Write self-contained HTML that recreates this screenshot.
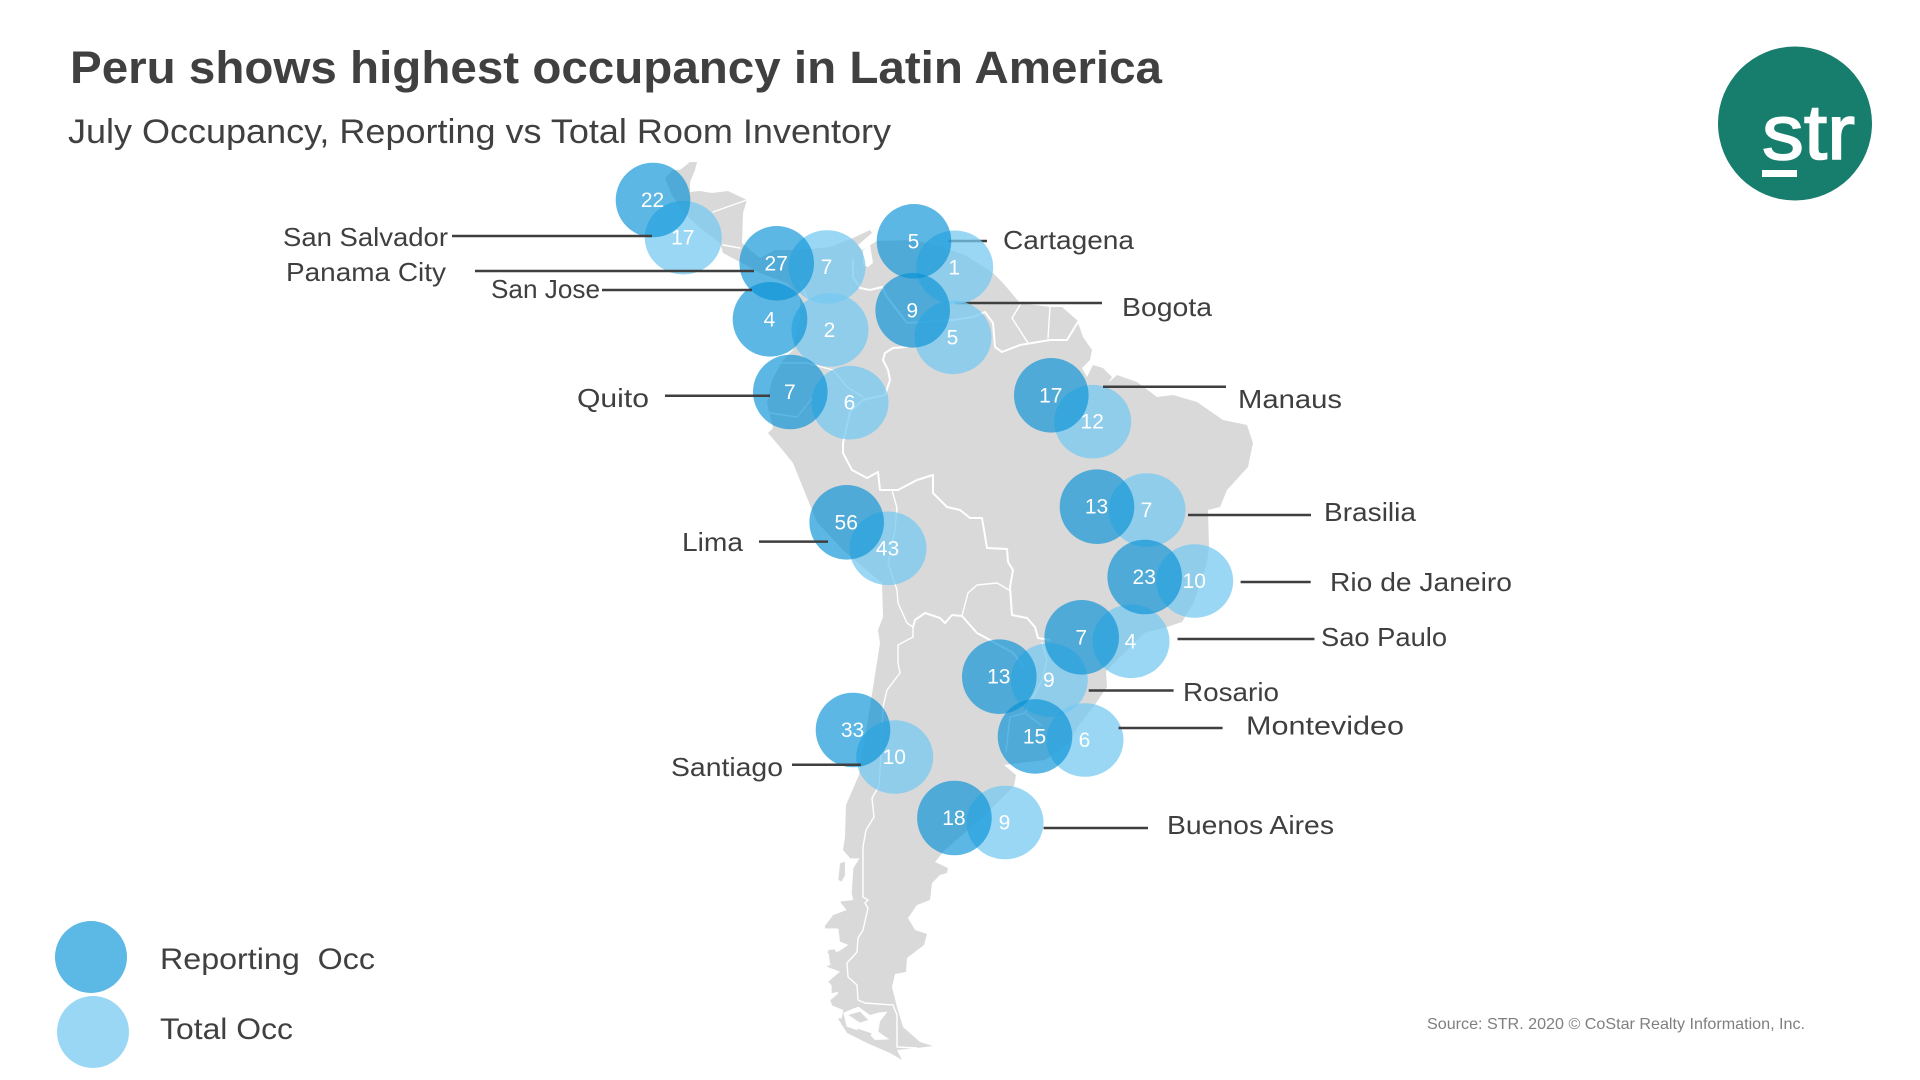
<!DOCTYPE html>
<html lang="en">
<head>
<meta charset="utf-8">
<title>Peru shows highest occupancy in Latin America</title>
<style>
html,body{margin:0;padding:0;background:#fff;width:1920px;height:1080px;overflow:hidden}
svg{display:block}
text{font-family:"Liberation Sans",sans-serif}
.lab{font-size:26px;fill:#3f3f3f}
.num{font-size:21px;fill:#fff;text-anchor:middle}
.bd{fill:none;stroke:#fff;stroke-width:2;stroke-linejoin:round;stroke-linecap:round}
.bd.thin{stroke-width:1.4}
</style>
</head>
<body>
<svg id="chart" width="1920" height="1080" viewBox="0 0 1920 1080" xmlns="http://www.w3.org/2000/svg">
  <rect width="1920" height="1080" fill="#fff"/>
  <text x="70" y="83" font-size="45" font-weight="700" fill="#404040" textLength="1092" lengthAdjust="spacingAndGlyphs">Peru shows highest occupancy in Latin America</text>
  <text x="68" y="143" font-size="34" fill="#404040" textLength="823" lengthAdjust="spacingAndGlyphs">July Occupancy, Reporting vs Total Room Inventory</text>

  <g>
    <path fill="#d9d9d9" d="M690,162 L697,162 695,170 690,182 690,192 700,191 712,193 728,191 747,200 743,213 742,243 750,250 760,258 775,250 800,250 830,247 853,238 870,230 872,233 858,245 862,250 877,241 915,240 945,248 965,255 993,273 1003,283 1020,303 1050,307 1062,307 1077,320 1083,337 1092,350 1090,360 1082,368 1087,377 1093,365 1103,368 1112,377 1108,383 1117,375 1137,382 1157,397 1173,395 1197,402 1223,420 1247,425 1253,443 1248,467 1227,490 1220,507 1208,510 1209,547 1207,563 1194,602 1182,622 1167,627 1144,633 1117,660 1106,671 1107,687 1094,706 1079,725 1068,744 1045,760 1004,765 1016,775 1014,786 985,815 945,850 935,862 948,868 947,873 940,875 932,883 930,900 917,905 908,918 915,930 927,934 924,945 907,958 906,972 895,974 892,987 897,1007 903,1027 920,1042 933,1046 917,1048 897,1050 902,1060 890,1053 867,1043 847,1033 837,1017 830,1000 827,973 827,950 825,927 833,915 840,907 843,873 850,858 843,850 845,837 846,805 859,775 872,694 880,643 878,630 883,617 882,583 870,573 843,550 817,522 810,505 793,463 780,447 768,433 773,428 767,403 772,380 783,360 793,350 800,320 800,297 787,283 760,273 740,262 723,253 720,243 700,228 683,212 672,195 665,178 673,170 680,170 Z"/>
    <path fill="#fff" d="M863,250 L870,245 873,263 868,267 863,265 Z"/>
    <g transform="translate(800,830) scale(.33333)">
      <path fill="#fff" d="M135,85 L178,85 160,115 155,190 160,210 120,215 140,240 100,255 70,295 115,295 120,335 145,345 115,365 80,365 110,395 80,410 120,425 85,455 115,490 80,520 130,540 125,565 110,565 70,500 60,300 100,100 Z"/>
      <path fill="#d9d9d9" d="M120,100 L135,95 135,135 125,155 115,150 Z"/>
      <path fill="#d9d9d9" d="M100,255 L118,262 135,285 115,295 73,290 Z"/>
      <path fill="#d9d9d9" d="M85,360 L105,358 112,395 100,415 90,400 Z"/>
      <path fill="#d9d9d9" d="M95,455 L110,455 115,485 95,490 Z"/>
      <path fill="#fff" d="M130,548 L175,530 210,555 235,548 262,545 240,575 235,605 268,628 225,630 205,610 170,600 140,590 Z"/>
      <path fill="#d9d9d9" d="M145,555 L180,545 205,570 180,578 Z"/>
      <path fill="#d9d9d9" d="M170,595 L215,610 210,620 180,610 Z"/>
    </g>
    <g>
      <path class="bd thin" d="M713,212 727,207 747,200"/>
      <path class="bd thin" d="M723,245 740,248"/>
      <path class="bd thin" d="M797,277 807,297"/>
      <path class="bd" d="M853,260 853,277 860,288 870,290 882,287 887,297 907,323 953,320 973,317 985,312 993,323 995,347 1002,352 1020,345 1050,340 1067,340 1078,322"/>
      <path class="bd thin" d="M1020,305 1012,318 1028,343"/>
      <path class="bd thin" d="M1050,307 1048,338"/>
      <path class="bd" d="M907,347 893,348 885,353 883,360 888,370 890,380 885,395 863,400 850,412 843,443 843,453 852,470 867,478 878,472 880,490 898,490 917,480 933,475 933,493 947,507 960,510 970,518 982,518 987,548 1007,549 1008,562 1013,570 1010,587 1012,615 1027,618 1035,627 1038,638 1050,640"/>
      <path class="bd thin" d="M780,363 807,363 833,370 847,387 863,397"/>
      <path class="bd thin" d="M770,413 797,417 813,397"/>
      <path class="bd thin" d="M892,490 897,508 895,530 888,563 897,590 898,603 907,623 913,627"/>
      <path class="bd" d="M913,627 915,620 925,613 940,618 945,623 952,615 962,616"/>
      <path class="bd thin" d="M962,616 968,593 977,585 997,583 1009,590"/>
      <path class="bd" d="M962,616 977,633 990,640 1013,653 1025,668"/>
      <path class="bd thin" d="M1042,643 1047,660 1042,680 1025,713 1041,725"/>
      <path class="bd thin" d="M1025,713 1010,717 1006,752"/>
      <path class="bd thin" d="M913,627 913,637 898,645 898,663 900,673 887,690 883,707 880,771 879,786 872,798 874,817 866,830 863,847 863,897 868,900 865,903 868,908 863,930 858,938 857,952 847,963 848,977 857,985 858,1000 865,1003 893,1005 897,1015 897,1047 917,1048"/>
    </g>
  </g>

  <g id="leaders-under"></g>
  <g id="bubbles"></g>
  <g id="leaders-over"></g>
  <g id="bubble-values"></g>
  <g id="city-labels"></g>

  <g>
    <circle cx="91" cy="957" r="36" fill="#5cb8e4"/>
    <text x="160" y="969" font-size="30" fill="#404040" textLength="215" lengthAdjust="spacingAndGlyphs" xml:space="preserve">Reporting  Occ</text>
    <circle cx="93" cy="1032" r="36" fill="#9ad7f5"/>
    <text x="160" y="1039" font-size="30" fill="#404040" textLength="133" lengthAdjust="spacingAndGlyphs">Total Occ</text>
  </g>

  <text x="1427" y="1029" font-size="16" fill="#7f7f7f" textLength="378" lengthAdjust="spacingAndGlyphs">Source: STR. 2020 © CoStar Realty Information, Inc.</text>

  <g>
    <circle cx="1795" cy="123.5" r="77" fill="#177d6c"/>
    <text x="1762" y="159" font-size="78" font-weight="400" fill="#fff" stroke="#fff" stroke-width="1.6" textLength="93" lengthAdjust="spacingAndGlyphs">str</text>
    <rect x="1762" y="170" width="35" height="7" fill="#fff"/>
  </g>
</svg>

<script>
// Chart data
const cities = ["San Salvador","Panama City","San Jose","Cartagena","Bogota","Quito","Manaus","Lima","Brasilia","Rio de Janeiro","Sao Paulo","Rosario","Montevideo","Santiago","Buenos Aires"];
const reportingOcc = [22,27,4,5,9,7,17,56,13,23,7,13,15,33,18];
const totalOcc = [17,7,2,1,5,6,12,43,7,10,4,9,6,10,9];

// Map layout, kept apart from the values: bubble anchors, leader lines and label boxes per city
const mapLayout = {
  "San Salvador":  {r:[653,200],   t:[683.3,237.7], lead:[452,652,236],     label:[283,246,165]},
  "Panama City":   {r:[776.7,263.3],t:[827,267],    lead:[475,754,271],     label:[286,281,160]},
  "San Jose":      {r:[770,319.3], t:[830,330],     lead:[602,752,290],     label:[491,298,109]},
  "Cartagena":     {r:[914,241.3], t:[954.7,267.3], lead:[948,987,241],     label:[1003,249,131], under:true},
  "Bogota":        {r:[912.7,310.3],t:[953,337.3],  lead:[955,1102,303],    label:[1122,316,90],  under:true},
  "Quito":         {r:[790.3,392], t:[850,402.7],   lead:[665,770,395.7],   label:[577,407,72]},
  "Manaus":        {r:[1051.3,395.3],t:[1092.7,421.7],lead:[1103,1226,386.7],label:[1238,408,104]},
  "Lima":          {r:[846.7,522.3],t:[888,548.3],  lead:[759,828,541.6],   label:[682,551,61]},
  "Brasilia":      {r:[1097,506.7],t:[1147,510],    lead:[1188,1311,515],   label:[1324,521,92]},
  "Rio de Janeiro":{r:[1144.7,577],t:[1194.7,581],  lead:[1240.6,1310.7,582],label:[1330,591,182]},
  "Sao Paulo":     {r:[1081.7,637.3],t:[1131,641.3],lead:[1177.5,1314.5,639],label:[1321,646,126]},
  "Rosario":       {r:[999.3,676.7],t:[1049.3,680], lead:[1088.7,1173.6,690.5],label:[1183,701,96]},
  "Montevideo":    {r:[1035,736.4],t:[1085,740],    lead:[1118.5,1222.6,728],label:[1246,734.5,158]},
  "Santiago":      {r:[853,730],   t:[894.7,757],   lead:[792,861,764.7],   label:[671,776,112]},
  "Buenos Aires":  {r:[954.4,818], t:[1005,822.5],  lead:[1043.5,1148,828], label:[1167,834,167]}
};

const NS = "http://www.w3.org/2000/svg";
const bubbleLayer = document.getElementById("bubbles");
const valueLayer = document.getElementById("bubble-values");
const labelLayer = document.getElementById("city-labels");
const underLayer = document.getElementById("leaders-under");
const overLayer = document.getElementById("leaders-over");

function slug(name){ return name.toLowerCase().replace(/ /g,"-"); }

function drawValue(pos, value, series, name){
  const t = document.createElementNS(NS,"text");
  t.setAttribute("x", pos[0] - 0.5);
  t.setAttribute("y", pos[1] + 7);
  t.setAttribute("class","num");
  
  
  t.textContent = value;
  valueLayer.appendChild(t);
}

cities.forEach(function(name, i){
  const m = mapLayout[name];

  const line = document.createElementNS(NS,"line");
  line.setAttribute("x1", m.lead[0]);
  line.setAttribute("x2", m.lead[1]);
  line.setAttribute("y1", m.lead[2]);
  line.setAttribute("y2", m.lead[2]);
  line.setAttribute("stroke", "#3f3f3f");
  line.setAttribute("stroke-width", "2.5");
  
  
  (m.under ? underLayer : overLayer).appendChild(line);

  const total = document.createElementNS(NS,"ellipse");
  total.setAttribute("cx", m.t[0]);
  total.setAttribute("cy", m.t[1]);
  total.setAttribute("rx", 38.5);
  total.setAttribute("ry", 36.8);
  total.setAttribute("fill", "rgb(118,201,241)");
  total.setAttribute("fill-opacity", "0.74");
  
  
  bubbleLayer.appendChild(total);
});

cities.forEach(function(name, i){
  const m = mapLayout[name];

  const rep = document.createElementNS(NS,"circle");
  rep.setAttribute("cx", m.r[0]);
  rep.setAttribute("cy", m.r[1]);
  rep.setAttribute("r", 37.3);
  rep.setAttribute("fill", "rgb(8,146,214)");
  rep.setAttribute("fill-opacity", "0.66");
  
  
  bubbleLayer.appendChild(rep);

  drawValue(m.r, reportingOcc[i], "reporting", name);
  drawValue(m.t, totalOcc[i], "total", name);

  const lab = document.createElementNS(NS,"text");
  lab.setAttribute("x", m.label[0]);
  lab.setAttribute("y", m.label[1]);
  lab.setAttribute("textLength", m.label[2]);
  lab.setAttribute("lengthAdjust", "spacingAndGlyphs");
  lab.setAttribute("class", "lab");
  
  
  lab.textContent = name;
  labelLayer.appendChild(lab);
});
</script>
</body>
</html>
